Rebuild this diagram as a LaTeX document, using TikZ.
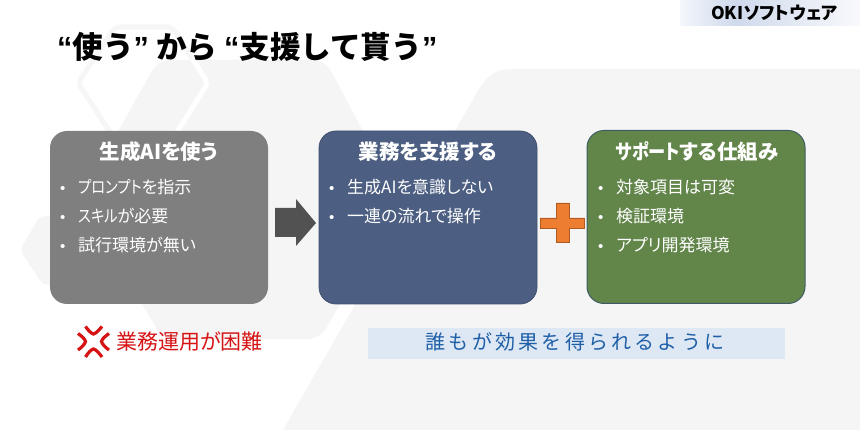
\documentclass[tikz,border=0pt]{standalone}
\usepackage{fontspec}
\setmainfont{Noto Sans CJK JP}[RawFeature=+palt]
\newfontfamily\latinfont{Liberation Sans}
\newfontfamily\fullfont{Noto Sans CJK JP}
\newfontfamily\narrowfont{Noto Sans CJK JP}[FakeStretch=0.84,RawFeature=+palt]
\newfontfamily\spacedfont{Noto Sans CJK JP}[LetterSpace=16]
\newcommand{\bitem}[1]{\makebox[18pt][l]{{\latinfont\fontsize{15}{15}\selectfont •}}#1}
\definecolor{bglight}{HTML}{F5F5F5}
\definecolor{bgline}{HTML}{F6F6F6}
\definecolor{boxgray}{HTML}{7F7F7F}
\definecolor{boxblue}{HTML}{4C5E82}
\definecolor{boxgreen}{HTML}{62854A}
\definecolor{greenline}{HTML}{3D5C62}
\definecolor{blueline}{HTML}{3F5070}
\definecolor{warnred}{HTML}{D61414}
\definecolor{plusfill}{HTML}{ED7D31}
\definecolor{plusline}{HTML}{AE5A21}
\definecolor{bandlo}{HTML}{F4F7FB}
\definecolor{bandhi}{HTML}{CFDAEC}
\definecolor{bandend}{HTML}{F8F9FC}
\definecolor{bannerfill}{HTML}{DDE8F4}
\definecolor{bannertxt}{HTML}{1F5FA8}
\tikzset{
  x=1pt,y=-1pt,
  card/.style={rounded corners=17pt,minimum width=218pt,minimum height=173pt,inner sep=0pt},
  cardtitle/.style={text=white,inner sep=0pt,anchor=base,font=\fontsize{20.5}{24}\selectfont\bfseries},
  item/.style={text=white,inner sep=0pt,anchor=base west,font=\fontsize{17}{20}\selectfont},
  anger/.style={draw=warnred,line width=3.2pt,line cap=butt}
}
\begin{document}
\begin{tikzpicture}
\useasboundingbox (0,0) rectangle (860,430);
\fill[white] (0,0) rectangle (860,430);
% background hexagons
\fill[bglight] (283,430) -- (467,110) .. controls (490,69) .. (530,69) -- (860,69) -- (860,430) -- cycle;
\fill[bglight,rounded corners=5pt] (20,250) -- (40,216) -- (100,216) -- (120,250) -- (100,285) -- (43,285) -- cycle;
\fill[bglight,rounded corners=12pt] (80,200) -- (158,60) -- (325,60) -- (400,200) -- (320,339) -- (163,339) -- cycle;
\draw[bgline,line width=5pt,rounded corners=5pt] (78,83) -- (115,27) -- (172,27) -- (208,83) -- (172,140) -- (115,140) -- cycle;
\begin{scope}
\clip[rounded corners=12pt] (80,200) -- (158,60) -- (325,60) -- (400,200) -- (320,339) -- (163,339) -- cycle;
\draw[white,line width=5pt,rounded corners=5pt] (78,83) -- (115,27) -- (172,27) -- (208,83) -- (172,140) -- (115,140) -- cycle;
\end{scope}
% logo band
\shade[left color=bandlo,right color=bandhi] (680,0) rectangle (735,26);
\shade[left color=bandhi,right color=bandend] (735,0) rectangle (860,26);
\node[inner sep=0pt,anchor=base] (logo) at (774.5,19.5) {\fontsize{17.5}{20}\selectfont\bfseries OKIソフトウェア};
% title
\node[inner sep=0pt,anchor=base west] (title) at (57,58.5) {\fontsize{30.6}{36}\selectfont\bfseries{\latinfont “}{\fullfont\bfseries 使う}{\latinfont ”} {\fullfont\bfseries から} {\latinfont “}{\fullfont\bfseries 支援して貰う}{\latinfont ”}};
% cards
\node[card,fill=boxgray] (c1) at (159,217.5) {};
\node[card,fill=boxblue,draw=blueline,line width=.8pt] (c2) at (428,217.5) {};
\node[card,fill=boxgreen,draw=greenline,line width=1pt] (c3) at (696,217) {};
\node[cardtitle] (t1) at (159,160) {生成AIを使う};
\node[cardtitle] (t2) at (428,160) {業務を支援する};
\node[cardtitle] (t3) at (697,160) {{\narrowfont\bfseries サポート}する仕組み};
\node[item] (a1) at (60,194) {\bitem{{\narrowfont プロンプト}を指示}};
\node[item] (a2) at (60,223) {\bitem{{\narrowfont スキル}が必要}};
\node[item] (a3) at (60,252) {\bitem{試行環境が無い}};
\node[item] (b1) at (329,194) {\bitem{生成AIを意識しない}};
\node[item] (b2) at (329,223) {\bitem{一連の流れで操作}};
\node[item] (d1) at (598,194) {\bitem{対象項目は可変}};
\node[item] (d2) at (598,223) {\bitem{検証環境}};
\node[item] (d3) at (598,252) {\bitem{アプリ開発環境}};
% arrow and plus
\fill[black!68] (275,208) -- (296,208) -- (296,199) -- (316,223) -- (296,246) -- (296,237) -- (275,237) -- cycle;
\draw[fill=plusfill,draw=plusline,line width=.8pt] (540,218) -- (556,218) -- (556,203) -- (569,203) -- (569,218) -- (584,218) -- (584,228) -- (569,228) -- (569,242) -- (556,242) -- (556,228) -- (540,228) -- cycle;
% anger icon
\draw[anger] (85.5,326.5) .. controls (88,330) and (91,333.5) .. (93.5,334) .. controls (96,333.5) and (99,330) .. (102,326.5);
\draw[anger] (85.5,357) .. controls (88,353) and (91,349.5) .. (93.5,349) .. controls (96,349.5) and (99,353) .. (102,357);
\draw[anger] (78,333.5) .. controls (81.5,336) and (85,339) .. (85.5,341.5) .. controls (85,344) and (81.5,347.5) .. (78,350);
\draw[anger] (109,333.5) .. controls (105.5,336) and (102,339) .. (101.5,341.5) .. controls (102,344) and (105.5,347.5) .. (109,350);
\node[inner sep=0pt,anchor=base west,text=warnred] (warn) at (116,349.5) {\fontsize{21}{24}\selectfont 業務運用が困難};
% banner
\node[fill=bannerfill,inner sep=0pt,minimum width=417pt,minimum height=31pt] (banner) at (576.5,343.5) {};
\node[inner sep=0pt,anchor=base,text=bannertxt] (bannertext) at (575,350) {\spacedfont\fontsize{20}{24}\selectfont 誰もが効果を得られるように};
\end{tikzpicture}
\end{document}
